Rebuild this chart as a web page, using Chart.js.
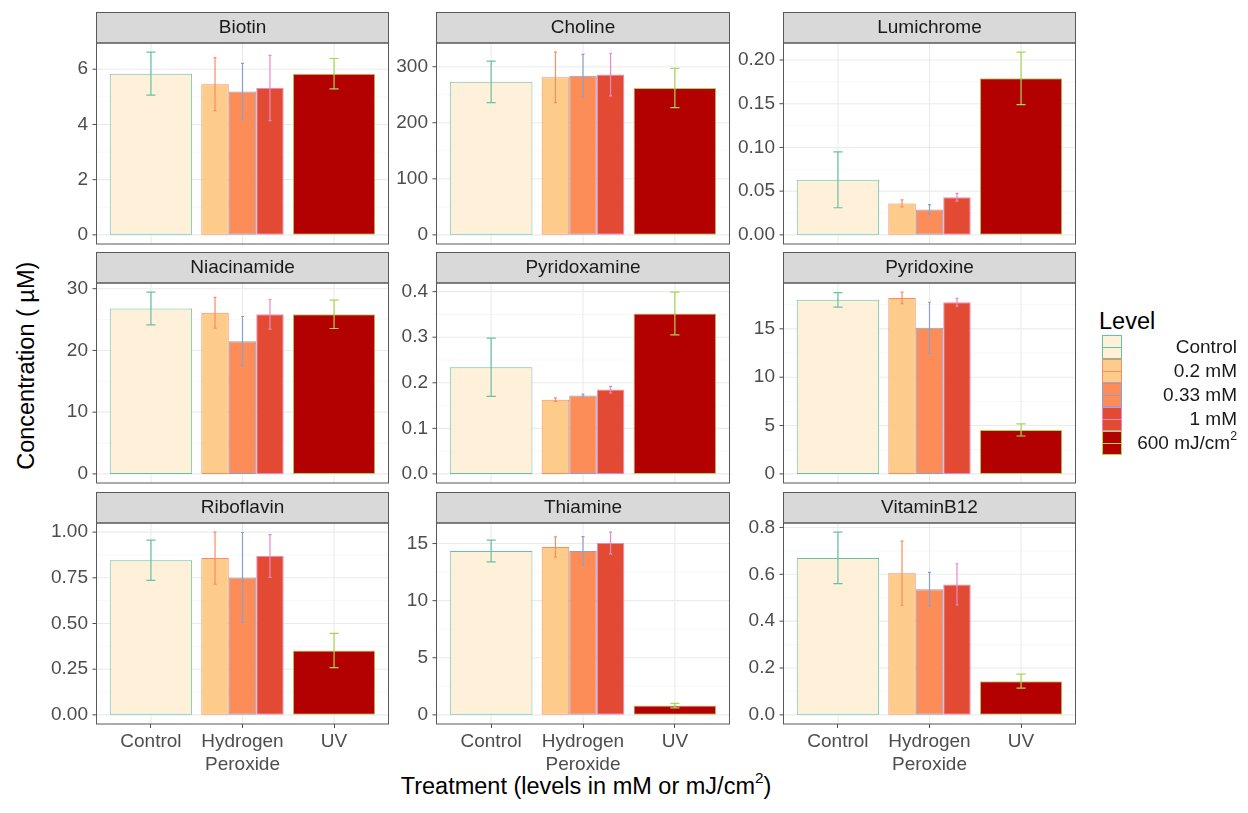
<!DOCTYPE html>
<html>
<head>
<meta charset="utf-8">
<script src="https://cdn.jsdelivr.net/npm/chart.js@4.4.1/dist/chart.umd.min.js"></script>
<style>
  body { margin: 0; background: #fff; font-family: 'Liberation Sans', Arial, sans-serif; }
  #page { position: relative; width: 1248px; height: 813px; overflow: hidden; background: #fff; }
  .panel { position: absolute; }
  .axis-title { position: absolute; font-size: 23.5px; line-height: 23.5px; color: #000; white-space: nowrap; text-align: center; }
  .axis-title sup, .lab sup { font-size: 0.65em; line-height: 0; position: relative; top: -0.15em; vertical-align: super; }
  .key { position: absolute; width: 20px; height: 24px; box-sizing: border-box; border: 1px solid; }
  .key i { position: absolute; left: 0; right: 0; top: 11px; height: 1px; }
  .lab { position: absolute; width: 115px; height: 24px; line-height: 24px; font-size: 19px; color: #1a1a1a; text-align: right; white-space: nowrap; }
</style>
</head>
<body>
<div id="page">
  <div class="axis-title" style="left:286px; top:775px; width:600px;">Treatment (levels in mM or mJ/cm<sup>2</sup>)</div>
  <div class="axis-title" style="left:-173px; top:354px; width:400px; transform:rotate(-90deg);">Concentration ( µM)</div>
  <div class="axis-title" style="left:1099px; top:310px; text-align:left;">Level</div>
</div>
<script>
// categories
const treatments = ['Control', ['Hydrogen', 'Peroxide'], 'UV'];
const levels = ['Control', '0.2 mM', '0.33 mM', '1 mM', '600 mJ/cm²'];
const levelGroup = [0, 1, 1, 1, 2];   // which treatment each level sits in
const vitamins = ['Biotin', 'Choline', 'Lumichrome', 'Niacinamide', 'Pyridoxamine',
                  'Pyridoxine', 'Riboflavin', 'Thiamine', 'VitaminB12'];

// mean and sd per level (Control, 0.2, 0.33, 1 mM, UV)
const biotin = [5.84, 5.46, 5.19, 5.32, 5.84];
const biotinSd = [0.78, 0.96, 1.02, 1.18, 0.55];
const choline = [273, 281, 284, 286, 262];
const cholineSd = [37, 45, 38, 38, 35];
const lumichrome = [0.063, 0.036, 0.029, 0.043, 0.179];
const lumichromeSd = [0.032, 0.004, 0.0055, 0.0045, 0.030];
const niacinamide = [26.8, 26.1, 21.5, 25.85, 25.85];
const niacinamideSd = [2.65, 2.5, 4.0, 2.4, 2.3];
const pyridoxamine = [0.234, 0.163, 0.172, 0.185, 0.352];
const pyridoxamineSd = [0.064, 0.004, 0.003, 0.007, 0.047];
const pyridoxine = [18.0, 18.2, 15.1, 17.75, 4.55];
const pyridoxineSd = [0.75, 0.6, 2.65, 0.4, 0.63];
const riboflavin = [0.846, 0.858, 0.752, 0.869, 0.352];
const riboflavinSd = [0.11, 0.142, 0.246, 0.117, 0.094];
const thiamine = [14.35, 14.7, 14.35, 15.05, 0.81];
const thiamineSd = [0.95, 0.88, 1.25, 0.95, 0.2];
const vitaminB12 = [0.670, 0.605, 0.536, 0.557, 0.144];
const vitaminB12Sd = [0.110, 0.137, 0.072, 0.088, 0.03];

const means = [biotin, choline, lumichrome, niacinamide, pyridoxamine, pyridoxine, riboflavin, thiamine, vitaminB12];
const sds = [biotinSd, cholineSd, lumichromeSd, niacinamideSd, pyridoxamineSd, pyridoxineSd, riboflavinSd, thiamineSd, vitaminB12Sd];

// tick labels
const tickSteps = [2, 100, 0.05, 10, 0.1, 5, 0.25, 5, 0.2];
const tickDigits = [0, 0, 2, 0, 1, 0, 2, 0, 1];

const fills = ['#fef0d9', '#fdcc8a', '#fc8d59', '#e34a33', '#b30000'];
const strokes = ['#66c2a5', '#fc8d62', '#8da0cb', '#e78ac3', '#a6d854'];

// panel layout (px)
const colX = [[96, 389], [436, 730], [783, 1076]];
const rowY = [[12, 43, 244], [252, 283, 483], [492, 523, 724]];
const FONT = "'Liberation Sans', Arial, sans-serif";

// draws the ggplot-like panel: background, grid, strip, y ticks, error bars, border
const facetPlugin = {
  id: 'facet',
  beforeDraw(chart, args, opts) {
    const {ctx, chartArea: ca, scales: {x, y}} = chart;
    const l = Math.round(ca.left - opts.pad) + 0.5;
    const r = Math.round(ca.right + opts.pad) - 0.5;
    const t = ca.top, b = ca.bottom;
    ctx.save();
    ctx.fillStyle = '#fff';
    ctx.fillRect(l, t, r - l, b - t);
    const step = opts.step;
    ctx.strokeStyle = '#f3f3f3';
    ctx.lineWidth = 0.7;
    for (let k = Math.floor(y.min / step) - 1; (k - 1) * step <= y.max; k++) {
      const v = (k + 0.5) * step;
      if (v < y.min || v > y.max) continue;
      const py = y.getPixelForValue(v);
      ctx.beginPath(); ctx.moveTo(l, py); ctx.lineTo(r, py); ctx.stroke();
    }
    ctx.strokeStyle = '#ebebeb';
    ctx.lineWidth = 1.1;
    y.ticks.forEach(tk => {
      const py = y.getPixelForValue(tk.value);
      ctx.beginPath(); ctx.moveTo(l, py); ctx.lineTo(r, py); ctx.stroke();
    });
    treatments.forEach((_, i) => {
      const px = x.getPixelForValue(i);
      ctx.beginPath(); ctx.moveTo(px, t); ctx.lineTo(px, b); ctx.stroke();
    });
    // strip
    ctx.fillStyle = '#d9d9d9';
    ctx.fillRect(l, 0.5, r - l, t - 0.5);
    ctx.strokeStyle = '#595959';
    ctx.lineWidth = 1;
    ctx.strokeRect(l, 0.5, r - l, t - 0.5);
    // y tick marks
    ctx.strokeStyle = '#4d4d4d';
    y.ticks.forEach(tk => {
      const py = y.getPixelForValue(tk.value);
      ctx.beginPath(); ctx.moveTo(l - 4, py); ctx.lineTo(l, py); ctx.stroke();
    });
    ctx.restore();
  },
  afterDatasetsDraw(chart) {
    const {ctx, scales: {y}} = chart;
    ctx.save();
    ctx.lineWidth = 1.2;
    chart.data.datasets.forEach((ds, i) => {
      const meta = chart.getDatasetMeta(i);
      ds.data.forEach((v, j) => {
        if (v == null) return;
        const bar = meta.data[j];
        const e = ds.errors[j];
        const top = y.getPixelForValue(v + e);
        const bot = y.getPixelForValue(v - e);
        const half = bar.width / 18;
        ctx.strokeStyle = ds.borderColor;
        ctx.beginPath();
        ctx.moveTo(bar.x, top); ctx.lineTo(bar.x, bot);
        ctx.moveTo(bar.x - half, top); ctx.lineTo(bar.x + half, top);
        ctx.moveTo(bar.x - half, bot); ctx.lineTo(bar.x + half, bot);
        ctx.stroke();
      });
    });
    ctx.restore();
  },
  afterDraw(chart, args, opts) {
    const {ctx, chartArea: ca} = chart;
    const l = Math.round(ca.left - opts.pad) + 0.5;
    const r = Math.round(ca.right + opts.pad) - 0.5;
    ctx.save();
    ctx.strokeStyle = '#595959';
    ctx.lineWidth = 1;
    ctx.strokeRect(l, ca.top, r - l, ca.bottom - ca.top);
    ctx.restore();
  }
};

const page = document.getElementById('page');

vitamins.forEach((name, p) => {
  const row = Math.floor(p / 3), col = p % 3;
  const [L, R] = colX[col];
  const [T, S, B] = rowY[row];
  const W = R - L;
  const pad = W / 32;                 // ggplot's 0.6 discrete expansion vs Chart.js 0.5
  const bottomRow = row === 2;
  const below = bottomRow ? 62 : 3;

  const div = document.createElement('div');
  div.className = 'panel';
  div.style.left = (L - 64) + 'px';
  div.style.top = T + 'px';
  const canvas = document.createElement('canvas');
  canvas.width = W + 68;
  canvas.height = B - T + below;
  div.appendChild(canvas);
  page.appendChild(div);

  const hi = Math.max(...means[p].map((m, k) => m + sds[p][k]));

  const datasets = levels.map((lev, k) => ({
    label: lev,
    data: treatments.map((_, g) => g === levelGroup[k] ? means[p][k] : null),
    errors: treatments.map((_, g) => g === levelGroup[k] ? sds[p][k] : null),
    backgroundColor: fills[k],
    borderColor: strokes[k],
    borderWidth: 1,
    borderSkipped: false,
    skipNull: true,
    categoryPercentage: 0.9,
    barPercentage: 1
  }));

  new Chart(canvas, {
    type: 'bar',
    data: { labels: treatments, datasets },
    options: {
      responsive: false,
      animation: false,
      events: [],
      layout: { padding: { left: 0, top: 0, right: pad + 4, bottom: bottomRow ? 0 : 3 } },
      plugins: {
        legend: { display: false },
        tooltip: { enabled: false },
        title: {
          display: true, text: name, fullSize: false, color: '#1a1a1a',
          font: { family: FONT, size: 19, weight: 'normal', lineHeight: '21px' },
          padding: { top: 5, bottom: S - T - 26 }
        },
        facet: { pad, step: tickSteps[p] }
      },
      scales: {
        x: {
          display: bottomRow,
          offset: true,
          grid: { display: true, drawOnChartArea: false, drawTicks: true, tickLength: 4, color: '#4d4d4d', offset: false },
          border: { display: false },
          ticks: { font: { family: FONT, size: 19, lineHeight: 1.23 }, color: '#4d4d4d', padding: 2, maxRotation: 0, autoSkip: false },
          afterFit: s => { s.height = bottomRow ? 62 : 0; }
        },
        y: {
          min: -0.05 * hi,
          max: 1.05 * hi,
          grid: { display: false, drawTicks: false },
          border: { display: false },
          ticks: {
            stepSize: tickSteps[p], includeBounds: false, padding: pad + 8,
            color: '#4d4d4d', font: { family: FONT, size: 19 },
            callback: v => v.toFixed(tickDigits[p])
          },
          afterFit: s => { s.width = 64 + pad; s.paddingTop = 0; s.paddingBottom = 0; }
        }
      }
    },
    plugins: [facetPlugin]
  });
});

// legend
levels.forEach((lev, k) => {
  const key = document.createElement('div');
  key.className = 'key';
  key.style.left = '1102px';
  key.style.top = (335 + 24 * k) + 'px';
  key.style.background = fills[k];
  key.style.borderColor = strokes[k];
  const ln = document.createElement('i');
  ln.style.background = strokes[k];
  key.appendChild(ln);
  page.appendChild(key);
  const lab = document.createElement('div');
  lab.className = 'lab';
  lab.style.left = '1122px';
  lab.style.top = (335 + 24 * k) + 'px';
  lab.innerHTML = lev.replace('²', '<sup>2</sup>');
  page.appendChild(lab);
});
</script>
</body>
</html>
